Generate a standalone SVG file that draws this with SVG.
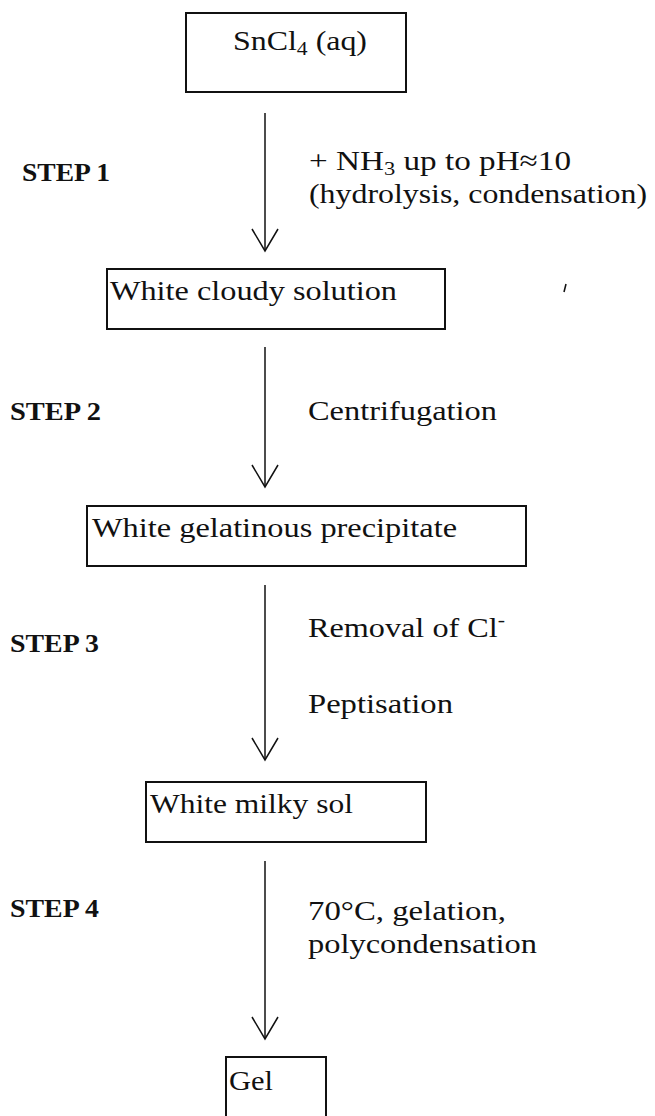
<svg xmlns="http://www.w3.org/2000/svg" width="655" height="1116" viewBox="0 0 655 1116">
<style>
.box{fill:#fff;stroke:#111;stroke-width:2}
.t{font-family:"Liberation Serif","Times New Roman",serif;font-size:28px;fill:#111}
.s{font-family:"Liberation Serif","Times New Roman",serif;font-size:25px;font-weight:bold;fill:#111}
.c{stroke:#111;stroke-width:1.5;fill:none}
</style>
<defs>
<marker id="vee" markerUnits="userSpaceOnUse" viewBox="0 0 24 28" refX="22" refY="14" markerWidth="24" markerHeight="28" orient="auto" overflow="visible">
<path d="M0,1 L22,14 L0,27" fill="none" stroke="#111" stroke-width="1.5"/>
</marker>
</defs>
<rect width="655" height="1116" fill="#fff"/>
<g id="connectors">
<line class="c" x1="265" y1="113" x2="265" y2="251" marker-end="url(#vee)"/>
<line class="c" x1="265" y1="347" x2="265" y2="487" marker-end="url(#vee)"/>
<line class="c" x1="265" y1="585" x2="265" y2="760" marker-end="url(#vee)"/>
<line class="c" x1="265" y1="861" x2="265" y2="1039" marker-end="url(#vee)"/>
</g>
<g id="node-sncl4">
<rect class="box" x="186" y="13" width="220" height="79"/>
<text class="t" x="233" y="50" textLength="134" lengthAdjust="spacingAndGlyphs">SnCl<tspan font-size="19" dy="5">4</tspan><tspan dy="-5"> (aq)</tspan></text>
</g>
<g id="node-cloudy">
<rect class="box" x="107" y="269" width="338" height="60"/>
<text class="t" x="110" y="300" textLength="287" lengthAdjust="spacingAndGlyphs">White cloudy solution</text>
</g>
<g id="node-precipitate">
<rect class="box" x="87" y="506" width="439" height="60"/>
<text class="t" x="92" y="537" textLength="365" lengthAdjust="spacingAndGlyphs">White gelatinous precipitate</text>
</g>
<g id="node-sol">
<rect class="box" x="146" y="782" width="280" height="60"/>
<text class="t" x="150" y="813" textLength="203" lengthAdjust="spacingAndGlyphs">White milky sol</text>
</g>
<g id="node-gel">
<rect class="box" x="226" y="1057" width="100" height="70"/>
<text class="t" x="229" y="1090" textLength="44" lengthAdjust="spacingAndGlyphs">Gel</text>
</g>
<g id="labels">
<text class="s" x="22" y="181" textLength="88" lengthAdjust="spacingAndGlyphs">STEP 1</text>
<text class="s" x="10" y="420" textLength="91" lengthAdjust="spacingAndGlyphs">STEP 2</text>
<text class="s" x="10" y="652" textLength="89" lengthAdjust="spacingAndGlyphs">STEP 3</text>
<text class="s" x="10" y="917" textLength="89" lengthAdjust="spacingAndGlyphs">STEP 4</text>
<text class="t" x="309" y="170" textLength="262" lengthAdjust="spacingAndGlyphs">+ NH<tspan font-size="19" dy="5">3</tspan><tspan dy="-5"> up to pH≈10</tspan></text>
<text class="t" x="309" y="203" textLength="338" lengthAdjust="spacingAndGlyphs">(hydrolysis, condensation)</text>
<text class="t" x="308" y="420" textLength="189" lengthAdjust="spacingAndGlyphs">Centrifugation</text>
<text class="t" x="308" y="637" textLength="197" lengthAdjust="spacingAndGlyphs">Removal of Cl<tspan font-size="19" dy="-11">-</tspan></text>
<text class="t" x="308" y="713" textLength="145" lengthAdjust="spacingAndGlyphs">Peptisation</text>
<text class="t" x="308" y="920" textLength="198" lengthAdjust="spacingAndGlyphs">70°C, gelation,</text>
<text class="t" x="308" y="953" textLength="229" lengthAdjust="spacingAndGlyphs">polycondensation</text>
</g>
<path d="M566,284 L564,292" stroke="#111" stroke-width="1.5" fill="none"/>
</svg>
